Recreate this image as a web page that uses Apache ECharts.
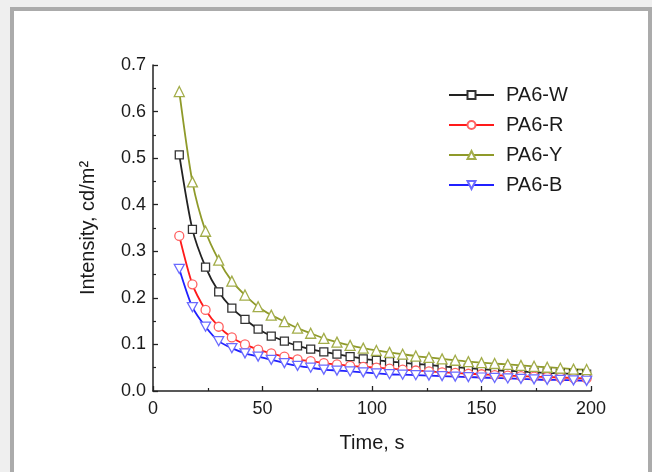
<!DOCTYPE html>
<html>
<head>
<meta charset="utf-8">
<script src="https://cdn.jsdelivr.net/npm/echarts@6/dist/echarts.min.js"></script>
<style>
html,body{margin:0;padding:0;background:#efefef;}
#frame{position:absolute;left:10px;top:7px;width:634px;height:470px;border:4px solid #ababab;border-bottom:none;background:#fff;}
#chart{position:absolute;left:0;top:0;width:652px;height:472px;}
</style>
</head>
<body>
<div id="frame"></div>
<div id="chart"></div>
<script>
const times = [12,18,24,30,36,42,48,54,60,66,72,78,84,90,96,102,108,114,120,126,132,138,144,150,156,162,168,174,180,186,192,198];
const pa6W = [0.507,0.347,0.266,0.213,0.178,0.154,0.133,0.118,0.107,0.097,0.090,0.084,0.079,0.074,0.069,0.066,0.063,0.061,0.058,0.056,0.053,0.051,0.049,0.047,0.045,0.043,0.042,0.040,0.039,0.038,0.037,0.036];
const pa6R = [0.333,0.229,0.174,0.138,0.115,0.100,0.089,0.081,0.074,0.068,0.064,0.060,0.057,0.054,0.052,0.050,0.048,0.046,0.044,0.042,0.040,0.039,0.037,0.036,0.034,0.033,0.032,0.031,0.030,0.029,0.028,0.027];
const pa6Y = [0.643,0.449,0.343,0.281,0.236,0.206,0.181,0.163,0.149,0.135,0.124,0.113,0.105,0.098,0.092,0.087,0.083,0.079,0.075,0.072,0.069,0.066,0.063,0.061,0.059,0.057,0.055,0.053,0.051,0.049,0.047,0.046];
const pa6B = [0.262,0.180,0.138,0.107,0.092,0.081,0.074,0.067,0.060,0.054,0.050,0.046,0.044,0.042,0.040,0.038,0.036,0.035,0.034,0.033,0.032,0.031,0.030,0.029,0.028,0.027,0.026,0.025,0.024,0.024,0.023,0.022];
const seriesNames = ['PA6-W','PA6-R','PA6-Y','PA6-B'];
const xTicks = [0,50,100,150,200];
const yTicks = [0,0.1,0.2,0.3,0.4,0.5,0.6,0.7];

const pair = arr => times.map((t,i)=>[t,arr[i]]);
const FONT = 'Liberation Sans, Arial, sans-serif';
const chart = echarts.init(document.getElementById('chart'));

function mk(name, data, lineColor, markColor, symbol, size){
  return {
    name, type:'line', data: pair(data), smooth:0.25,
    symbol, symbolSize:size, showSymbol:true,
    lineStyle:{color:lineColor,width:1.8},
    itemStyle:{color:'#fff',borderColor:markColor,borderWidth:1.3},
    emphasis:{disabled:true}, animation:false
  };
}

chart.setOption({
  backgroundColor:'transparent',
  animation:false,
  grid:{left:153,right:61,top:65,bottom:81,containLabel:false},
  legend:{
    orient:'vertical', left:448, top:85, padding:0, itemWidth:45, itemHeight:10, itemGap:10,
    data:seriesNames,
    textStyle:{fontFamily:FONT,fontSize:20,color:'#1a1a1a',padding:[0,0,0,7]}
  },
  xAxis:{
    type:'value', min:0, max:200, interval:50,
    name:'Time, s', nameLocation:'middle', nameGap:42,
    nameTextStyle:{fontFamily:FONT,fontSize:20,color:'#1a1a1a'},
    axisLine:{show:true,onZero:false,lineStyle:{color:'#222',width:1.5}},
    axisTick:{show:true,inside:true,length:5,lineStyle:{color:'#222',width:1.3}},
    minorTick:{show:true,splitNumber:2,length:3,lineStyle:{color:'#222',width:1.2}},
    splitLine:{show:false},
    axisLabel:{fontFamily:FONT,fontSize:18,color:'#1a1a1a',margin:9,
      formatter:v=>xTicks.includes(v)?String(v):''}
  },
  yAxis:{
    type:'value', min:0, max:0.7, interval:0.1,
    name:'Intensity, cd/m²', nameLocation:'middle', nameGap:55,
    nameTextStyle:{fontFamily:FONT,fontSize:20,color:'#1a1a1a'},
    axisLine:{show:true,onZero:false,lineStyle:{color:'#222',width:1.5}},
    axisTick:{show:true,inside:true,length:5,lineStyle:{color:'#222',width:1.3}},
    minorTick:{show:true,splitNumber:2,length:3,lineStyle:{color:'#222',width:1.2}},
    splitLine:{show:false},
    axisLabel:{fontFamily:FONT,fontSize:18,color:'#1a1a1a',margin:7,
      formatter:v=>{const m=yTicks.find(t=>Math.abs(t-v)<1e-6);return m===undefined?'':m.toFixed(1);}}
  },
  series:[
    mk('PA6-W', pa6W, '#222222', '#333333', 'rect', 8),
    mk('PA6-R', pa6R, '#ff1a1a', '#ff6060', 'circle', 9),
    mk('PA6-Y', pa6Y, '#8f9a2a', '#a3ad4a', 'triangle', 10),
    mk('PA6-B', pa6B, '#2020ff', '#6a6aff', 'path://M0,0 L10,0 L5,9 Z', [10,9])
  ]
});
</script>
</body>
</html>
